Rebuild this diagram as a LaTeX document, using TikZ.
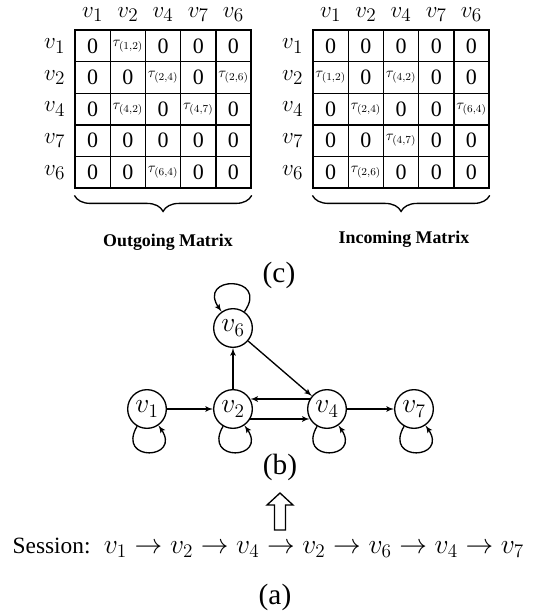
\documentclass[tikz,border=0pt]{standalone}
\usepackage{fontspec}
\setmainfont{Liberation Serif}
\usetikzlibrary{shapes,arrows,positioning,matrix,decorations.pathreplacing}

\newcommand{\tw}[1]{{\fontsize{11}{11}\selectfont$\tau_{(#1)}$}}

\begin{document}
\begin{tikzpicture}[
        x=0.75pt, y=-0.75pt,
        cell/.style={
            rectangle,
            draw,
            line width=1pt,
            anchor=center,
            minimum width=26.4pt,
            minimum height=23.7pt,
            inner sep=0pt,
            font=\fontsize{16.5}{18}\selectfont
        },
        grid/.style={
            matrix of nodes,
            inner sep=0pt,
            nodes={cell},
            column sep=-1pt,
            row sep=-1pt,
            row 1/.style={nodes={draw=none, minimum height=24pt, font=\fontsize{19}{19}\selectfont}},
            column 1/.style={nodes={draw=none, minimum width=31.5pt, font=\fontsize{19}{19}\selectfont}}
        },
        vertex/.style={
            circle,
            draw,
            line width=1pt,
            minimum size=29pt,
            inner sep=0pt,
            font=\fontsize{21}{21}\selectfont
        },
        line/.style={draw, -latex', line width=1pt},
        brace/.style={draw, line width=1pt, decorate, decoration={brace, mirror, amplitude=12pt}},
        title/.style={font=\fontsize{13.4}{15}\selectfont\bfseries},
        caption/.style={font=\fontsize{22}{24}\selectfont}
    ]
        \useasboundingbox (0,0) rectangle (536,611);

        % -- Macierze (Matrices) --

        % Wychodzaca
        \matrix (outm) [grid, anchor=south east] at (252,189) {
                & $v_1$ & $v_2$ & $v_4$ & $v_7$ & $v_6$ \\
            $v_1$ & 0 & \tw{1,2} & 0 & 0 & 0 \\
            $v_2$ & 0 & 0 & \tw{2,4} & 0 & \tw{2,6} \\
            $v_4$ & 0 & \tw{4,2} & 0 & \tw{4,7} & 0 \\
            $v_7$ & 0 & 0 & 0 & 0 & 0 \\
            $v_6$ & 0 & 0 & \tw{6,4} & 0 & 0 \\
        };

        % Przychodzaca
        \matrix (inm) [grid, anchor=south east] at (490,189) {
                & $v_1$ & $v_2$ & $v_4$ & $v_7$ & $v_6$ \\
            $v_1$ & 0 & 0 & 0 & 0 & 0 \\
            $v_2$ & \tw{1,2} & 0 & \tw{4,2} & 0 & 0 \\
            $v_4$ & 0 & \tw{2,4} & 0 & 0 & \tw{6,4} \\
            $v_7$ & 0 & 0 & \tw{4,7} & 0 & 0 \\
            $v_6$ & 0 & \tw{2,6} & 0 & 0 & 0 \\
        };

        % Klamry i podpisy
        \path [brace] ([yshift=-5pt]outm-6-2.south west) -- ([yshift=-5pt]outm-6-6.south east);
        \path [brace] ([yshift=-5pt]inm-6-2.south west) -- ([yshift=-5pt]inm-6-6.south east);
        \node [title] (outt) at (168,242) {Outgoing Matrix};
        \node [title] (int) at (404,239) {Incoming Matrix};
        \node [caption] (capc) at (279,275) {(c)};

        % -- Graf (Graph) --
        \node [vertex] (v6) at (233,328) {$v_6$};
        \node [vertex] (v1) at (147,409) {$v_1$};
        \node [vertex] (v2) at (233,409) {$v_2$};
        \node [vertex] (v4) at (327,409) {$v_4$};
        \node [vertex] (v7) at (414,409) {$v_7$};
        \node [caption] (capb) at (280,467) {(b)};

        % Krawedzie
        \path [line] (v1) -- (v2);
        \path [line] (v2.-30) -- (v4.-150);
        \path [line] (v4.150) -- (v2.30);
        \path [line] (v2) -- (v6);
        \path [line] (v6) -- (v4);
        \path [line] (v4) -- (v7);

        % Petle
        \path [line] (v1) to [out=-120, in=-55, looseness=5] (v1);
        \path [line] (v2) to [out=-120, in=-55, looseness=5] (v2);
        \path [line] (v4) to [out=-120, in=-55, looseness=5] (v4);
        \path [line] (v7) to [out=-120, in=-55, looseness=5] (v7);
        \path [line] (v6) to [out=55, in=125, looseness=5] (v6);

        % -- Sesja (Session) --
        \draw [line width=1pt] (274.5,530) -- (274.5,505) -- (267,505) -- (280,493)
            -- (293,505) -- (285.5,505) -- (285.5,530) -- cycle;
        \node [anchor=base west] (sess) at (8,553)
            {{\fontsize{17.5}{20}\selectfont Session:}\hspace{10pt}{\fontsize{21}{22}\selectfont$v_1 \rightarrow v_2 \rightarrow v_4 \rightarrow v_2 \rightarrow v_6 \rightarrow v_4 \rightarrow v_7$}};
        \node [caption] (capa) at (275,597) {(a)};

    \end{tikzpicture}
\end{document}
